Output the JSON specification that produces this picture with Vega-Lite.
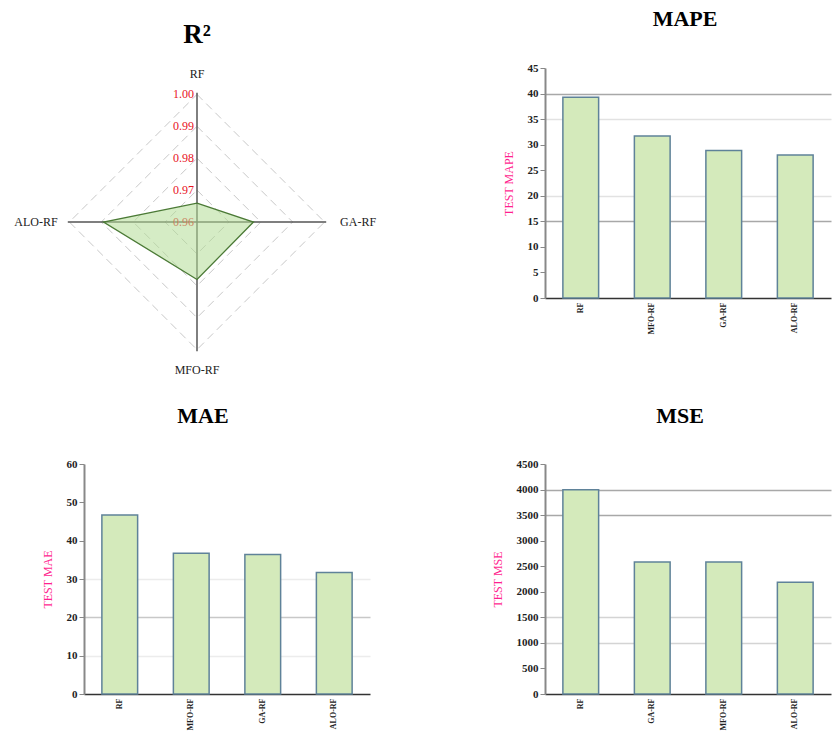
{
  "$schema": "https://vega.github.io/schema/vega-lite/v6.json",
  "padding": {"left": 14, "top": 8, "right": 5, "bottom": 5},
  "background": "white",
  "datasets": {
    "r2": [
      {"model": "RF", "r2": 0.9659, "k": 0},
      {"model": "GA-RF", "r2": 0.9777, "k": 1},
      {"model": "MFO-RF", "r2": 0.978, "k": 2},
      {"model": "ALO-RF", "r2": 0.9893, "k": 3}
    ],
    "levels": [
      {"level": 0.96, "k": [0, 1, 2, 3]},
      {"level": 0.97, "k": [0, 1, 2, 3]},
      {"level": 0.98, "k": [0, 1, 2, 3]},
      {"level": 0.99, "k": [0, 1, 2, 3]},
      {"level": 1.0, "k": [0, 1, 2, 3]}
    ],
    "mape": [
      {"model": "RF", "value": 39.3},
      {"model": "MFO-RF", "value": 31.7},
      {"model": "GA-RF", "value": 28.85},
      {"model": "ALO-RF", "value": 28.0}
    ],
    "mae": [
      {"model": "RF", "value": 46.7},
      {"model": "MFO-RF", "value": 36.7},
      {"model": "GA-RF", "value": 36.4},
      {"model": "ALO-RF", "value": 31.7}
    ],
    "mse": [
      {"model": "RF", "value": 3997},
      {"model": "GA-RF", "value": 2583},
      {"model": "MFO-RF", "value": 2583},
      {"model": "ALO-RF", "value": 2184}
    ]
  },
  "columns": 2,
  "spacing": {"row": 166, "column": 175},
  "bounds": "flush",
  "concat": [
    {
      "title": {"text": "R²", "fontSize": 27, "offset": 19, "dx": -30},
      "width": 286,
      "height": 230,
      "layer": [
        {
          "data": {"name": "levels"},
          "transform": [
            {"flatten": ["k"]},
            {"calculate": "(datum.level - 0.96) * sin(datum.k * PI / 2)", "as": "gx"},
            {"calculate": "(datum.level - 0.96) * cos(datum.k * PI / 2)", "as": "gy"}
          ],
          "mark": {"type": "line", "interpolate": "linear-closed", "strokeDash": [8, 5], "color": "#c8c8c8", "strokeWidth": 1},
          "encoding": {
            "x": {"field": "gx", "type": "quantitative", "scale": {"domain": [-0.03542, 0.05423], "nice": false, "zero": false}, "axis": null},
            "y": {"field": "gy", "type": "quantitative", "scale": {"domain": [-0.02382, 0.04828], "nice": false, "zero": false}, "axis": null},
            "order": {"field": "k", "type": "quantitative"},
            "detail": {"field": "level", "type": "nominal"}
          }
        },
        {
          "data": {"name": "r2"},
          "transform": [
            {"calculate": "0.0405 * sin(datum.k * PI / 2)", "as": "ex"},
            {"calculate": "0.0405 * cos(datum.k * PI / 2)", "as": "ey"}
          ],
          "mark": {"type": "rule", "color": "#555555", "strokeWidth": 1.5},
          "encoding": {
            "x": {"field": "ex", "type": "quantitative"},
            "y": {"field": "ey", "type": "quantitative"},
            "x2": {"datum": 0},
            "y2": {"datum": 0}
          }
        },
        {
          "data": {"name": "levels"},
          "transform": [
            {"calculate": "datum.level - 0.96", "as": "ty"}
          ],
          "mark": {"type": "text", "align": "right", "baseline": "middle", "dx": -3, "color": "#e8141e", "fontSize": 12, "font": "Liberation Serif"},
          "encoding": {
            "x": {"datum": 0, "type": "quantitative"},
            "y": {"field": "ty", "type": "quantitative"},
            "text": {"field": "level", "type": "quantitative", "format": ".2f"}
          }
        },
        {
          "data": {"name": "r2"},
          "transform": [
            {"calculate": "(datum.r2 - 0.96) * sin(datum.k * PI / 2)", "as": "px"},
            {"calculate": "(datum.r2 - 0.96) * cos(datum.k * PI / 2)", "as": "py"}
          ],
          "mark": {"type": "line", "interpolate": "linear-closed", "fill": "#b3dc95", "fillOpacity": 0.55, "stroke": "#4b7a36", "strokeWidth": 1.3},
          "encoding": {
            "x": {"field": "px", "type": "quantitative"},
            "y": {"field": "py", "type": "quantitative"},
            "order": {"field": "k", "type": "quantitative"}
          }
        },
        {
          "data": {"name": "r2"},
          "transform": [
            {"calculate": "datum.k % 2 == 1 ? 0.0505 : 0.0463", "as": "d"},
            {"calculate": "datum.d * sin(datum.k * PI / 2)", "as": "lx"},
            {"calculate": "datum.d * cos(datum.k * PI / 2)", "as": "ly"}
          ],
          "mark": {"type": "text", "align": "center", "baseline": "middle", "color": "#222222", "fontSize": 12, "font": "Liberation Serif"},
          "encoding": {
            "x": {"field": "lx", "type": "quantitative"},
            "y": {"field": "ly", "type": "quantitative"},
            "text": {"field": "model", "type": "nominal"}
          }
        }
      ]
    },
    {
      "title": {"text": "MAPE", "offset": 31, "dx": -3},
      "width": 286,
      "height": 230,
      "data": {"name": "mape"},
      "mark": {"type": "bar", "fill": "#d4eabb", "stroke": "#5f8299", "strokeWidth": 1.5},
      "encoding": {
        "x": {"field": "model", "type": "nominal", "sort": null, "scale": {"paddingInner": 0.5, "paddingOuter": 0.25}, "axis": {"title": null}},
        "y": {
          "field": "value", "type": "quantitative",
          "scale": {"domain": [0, 45], "nice": false},
          "axis": {
            "title": "TEST MAPE",
            "values": [0, 5, 10, 15, 20, 25, 30, 35, 40, 45],
            "gridColor": {"condition": {"test": "datum.value === 40 || datum.value === 15", "value": "#a8a8a8"}, "value": "#e2e2e2"},
            "gridOpacity": {"condition": {"test": "datum.value === 40 || datum.value === 15 || datum.value === 35 || datum.value === 20", "value": 1}, "value": 0}
          }
        }
      }
    },
    {
      "title": {"text": "MAE", "offset": 30, "dx": -24},
      "width": 286,
      "height": 230,
      "data": {"name": "mae"},
      "mark": {"type": "bar", "fill": "#d4eabb", "stroke": "#5f8299", "strokeWidth": 1.5},
      "encoding": {
        "x": {"field": "model", "type": "nominal", "sort": null, "scale": {"paddingInner": 0.5, "paddingOuter": 0.25}, "axis": {"title": null}},
        "y": {
          "field": "value", "type": "quantitative",
          "scale": {"domain": [0, 60], "nice": false},
          "axis": {
            "title": "TEST MAE",
            "values": [0, 10, 20, 30, 40, 50, 60],
            "gridColor": {"condition": {"test": "datum.value === 20", "value": "#c8c8c8"}, "value": "#ececec"},
            "gridOpacity": {"condition": {"test": "datum.value === 20 || datum.value === 30 || datum.value === 10", "value": 1}, "value": 0}
          }
        }
      }
    },
    {
      "title": {"text": "MSE", "offset": 30, "dx": -8},
      "width": 286,
      "height": 230,
      "data": {"name": "mse"},
      "mark": {"type": "bar", "fill": "#d4eabb", "stroke": "#5f8299", "strokeWidth": 1.5},
      "encoding": {
        "x": {"field": "model", "type": "nominal", "sort": null, "scale": {"paddingInner": 0.5, "paddingOuter": 0.25}, "axis": {"title": null}},
        "y": {
          "field": "value", "type": "quantitative",
          "scale": {"domain": [0, 4500], "nice": false},
          "axis": {
            "title": "TEST MSE",
            "format": "d",
            "values": [0, 500, 1000, 1500, 2000, 2500, 3000, 3500, 4000, 4500],
            "gridColor": {"condition": {"test": "datum.value === 3500 || datum.value === 4000", "value": "#a8a8a8"}, "value": "#d4d4d4"},
            "gridOpacity": {"condition": {"test": "datum.value === 3500 || datum.value === 4000 || datum.value === 1500 || datum.value === 1000", "value": 1}, "value": 0}
          }
        }
      }
    }
  ],
  "config": {
    "view": {"stroke": null},
    "title": {"font": "Liberation Serif", "fontWeight": "bold", "fontSize": 22, "color": "#000000"},
    "axis": {
      "labelFont": "Liberation Serif",
      "labelFontWeight": "bold",
      "labelColor": "#222222",
      "titleFont": "Liberation Serif",
      "titleFontWeight": "normal",
      "titleColor": "#ff1f8f",
      "titleFontSize": 12
    },
    "axisY": {
      "domainColor": "#888888",
      "domainWidth": 2,
      "tickColor": "#888888",
      "tickSize": 5,
      "labelFontSize": 11,
      "labelPadding": 2,
      "titlePadding": 12,
      "gridWidth": 1.5
    },
    "axisX": {
      "domainColor": "#333333",
      "domainWidth": 1.5,
      "ticks": false,
      "labelAngle": -90,
      "labelFontSize": 8,
      "labelPadding": 4,
      "grid": false
    }
  }
}
